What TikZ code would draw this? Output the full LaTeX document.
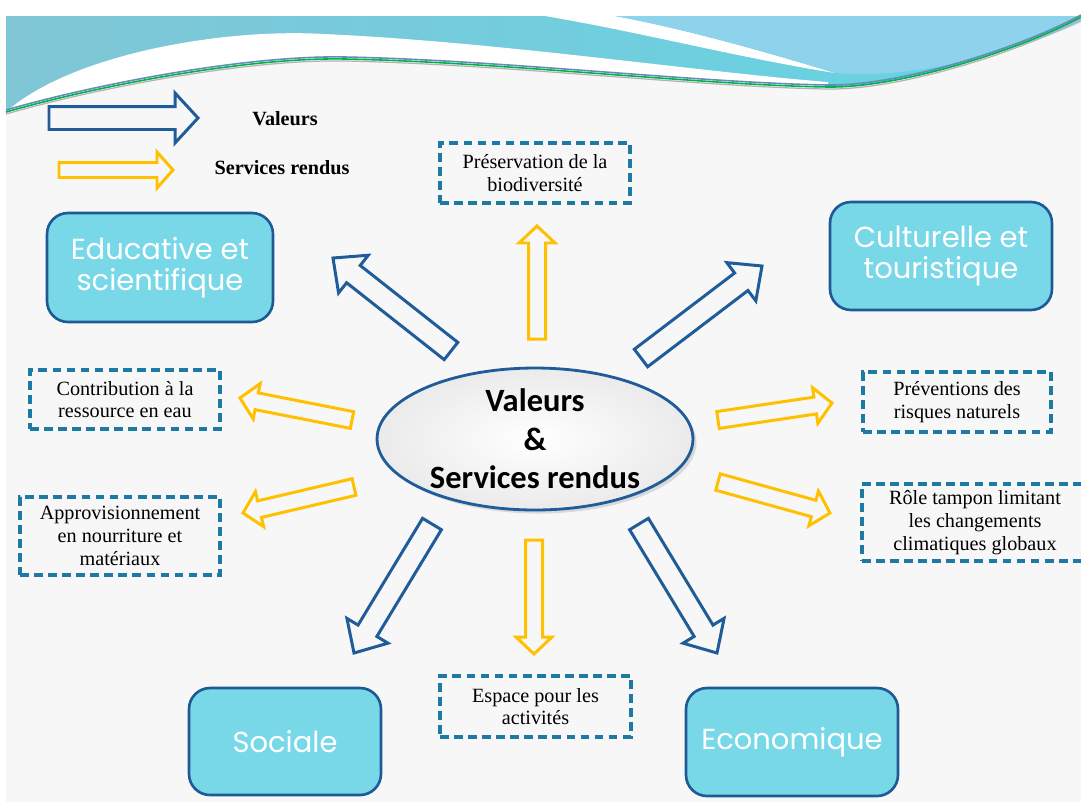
\documentclass[tikz,border=0pt]{standalone}
\usepackage{fontspec}
\setmainfont{Liberation Serif}
\newfontfamily\boxfont{Poppins}
\newfontfamily\ellfont{Carlito}
\usetikzlibrary{calc,shapes.geometric,shadows}

\definecolor{valblue}{RGB}{31,92,153}
\definecolor{servyellow}{RGB}{255,192,0}
\definecolor{boxfill}{RGB}{121,216,232}
\definecolor{boxline}{RGB}{30,90,150}
\definecolor{dashline}{RGB}{30,122,165}
\definecolor{slidebg}{RGB}{247,247,247}
\definecolor{bandteal}{RGB}{128,198,214}
\definecolor{bandcyan}{RGB}{100,212,228}
\definecolor{bandsky}{RGB}{142,210,236}

\def\blockarrow[#1](#2)(#3)(#4:#5:#6){\path ($(#3)!#6!(#2)$) coordinate (ba-base);
	\draw[#1] ($(#2)!#4!90:(#3)$) -- ($(ba-base)!#4!90:(#3)$) -- ($(ba-base)!#5!90:(#3)$) -- (#3)
	-- ($(ba-base)!#5!-90:(#3)$) -- ($(ba-base)!#4!-90:(#3)$) -- ($(#2)!#4!-90:(#3)$) -- cycle;}

\tikzset{
	valarrow/.style={draw=valblue, line width=1.7pt, line join=miter},
	servarrow/.style={draw=servyellow, line width=1.7pt, line join=miter},
	valbox/.style={draw=boxline, line width=1.5pt, fill=boxfill, rounded corners=0.42cm, text=white, align=center, inner sep=0pt, font=\boxfont\fontsize{16.5}{17.5}\selectfont},
	servbox/.style={draw=dashline, line width=1.8pt, dash pattern=on 5pt off 3pt, align=center, inner sep=0pt, font=\fontsize{11.5}{13}\selectfont},
	legendtext/.style={font=\bfseries\fontsize{11.5}{13}\selectfont},
	centre/.style={ellipse, draw=valblue, line width=1.6pt, inner color=white, outer color=gray!16, minimum width=6.32cm, minimum height=2.84cm, inner sep=0pt, align=center, font=\ellfont\bfseries\fontsize{18.5}{22}\selectfont, drop shadow={shadow xshift=2pt, shadow yshift=-2pt, opacity=0.25, fill=gray}}
}

\begin{document}
\begin{tikzpicture}[x=0.02cm, y=-0.02cm]
	%%%%% START %%%%%
	
	\clip (0,0) rectangle (1081,802);
	\fill[white] (0,0) rectangle (1081,802);
	\fill[slidebg] (6,16) rectangle (1081,802);
	
	% banner
	\shade[left color=bandteal, right color=bandcyan] (6,16) -- (1081,16) -- (1081,17) .. controls (1020,50) and (900,88) .. (828,87) .. controls (700,85) and (500,62) .. (345,59) .. controls (250,57) and (100,85) .. (6,112) -- cycle;
	\fill[white] (6,112) .. controls (70,55) and (220,28) .. (324,34) .. controls (500,42) and (700,72) .. (828,82) -- (828,87) .. controls (700,85) and (500,62) .. (345,59) .. controls (250,57) and (100,85) .. (6,112) -- cycle;
	\fill[white] (545,16) .. controls (640,32) and (740,58) .. (835,73) .. controls (760,50) and (680,28) .. (615,16) -- cycle;
	\fill[bandsky] (615,16) .. controls (680,28) and (760,50) .. (835,73) .. controls (920,80) and (1020,50) .. (1081,22) -- (1081,16) -- cycle;
	\draw[line width=0.9pt, color=valblue!70] (6,110) .. controls (100,83) and (250,55) .. (345,57) .. controls (500,60) and (700,83) .. (828,85) .. controls (900,86) and (1020,48) .. (1081,15);
	\draw[line width=0.9pt, color=teal!60!green] (6,112) .. controls (100,85) and (250,57) .. (345,59) .. controls (500,62) and (700,85) .. (828,87) .. controls (900,88) and (1020,50) .. (1081,17);
	\draw[line width=0.7pt, color=gray!60] (6,114) .. controls (100,87) and (250,59) .. (345,61) .. controls (500,64) and (700,87) .. (828,89) .. controls (900,90) and (1020,52) .. (1081,19);
	
	% legend
	\coordinate (legval-tail) at (49,118);
	\coordinate (legval-tip) at (198,118);
	\blockarrow[valarrow](legval-tail)(legval-tip)(0.23cm:0.5cm:0.46cm)
	\node[legendtext] (legval) at (285,119) {Valeurs};
	\coordinate (legserv-tail) at (59,170);
	\coordinate (legserv-tip) at (173,170);
	\blockarrow[servarrow](legserv-tail)(legserv-tip)(0.15cm:0.36cm:0.32cm)
	\node[legendtext] (legserv) at (282,168) {Services rendus};
	
	% centre
	\node[centre] (vs) at (535,439) {Valeurs\\\&\\Services rendus};
	
	% valeurs
	\node[valbox, minimum width=4.52cm, minimum height=2.18cm] (edu) at (160,267.5) {Educative et\\scientifique};
	\node[valbox, minimum width=4.44cm, minimum height=2.16cm] (cult) at (941,256) {Culturelle et\\touristique};
	\node[valbox, minimum width=3.84cm, minimum height=2.14cm] (soc) at (285,741.5) {Sociale};
	\node[valbox, minimum width=4.24cm, minimum height=2.16cm] (eco) at (792,742) {Economique};
	
	% services rendus
	\node[servbox, minimum width=3.8cm, minimum height=1.2cm] (pres) at (535,173) {Préservation de la\\biodiversité};
	\node[servbox, minimum width=3.8cm, minimum height=1.18cm] (contrib) at (125,399.5) {Contribution à la\\ressource en eau};
	\node[servbox, minimum width=4cm, minimum height=1.56cm] (appro) at (120,536) {Approvisionnement\\en nourriture et\\matériaux};
	\node[servbox, minimum width=3.76cm, minimum height=1.2cm] (prev) at (957,402) {Préventions des\\risques naturels};
	\node[servbox, minimum width=4.52cm, minimum height=1.54cm] (role) at (975,522.5) {Rôle tampon limitant\\les changements\\climatiques globaux};
	\node[servbox, minimum width=3.82cm, minimum height=1.22cm] (esp) at (535.5,706.5) {Espace pour les\\activités};
	
	% blue arrows
	\coordinate (edu-from) at (451,351);
	\coordinate (edu-to) at (333,258);
	\coordinate (cult-from) at (641,358);
	\coordinate (cult-to) at (762,266);
	\coordinate (soc-from) at (432,524);
	\coordinate (soc-to) at (354,653);
	\coordinate (eco-from) at (639,524);
	\coordinate (eco-to) at (717,653);
	\blockarrow[valarrow](edu-from)(edu-to)(0.22cm:0.48cm:0.52cm)
	\blockarrow[valarrow](cult-from)(cult-to)(0.22cm:0.48cm:0.52cm)
	\blockarrow[valarrow](soc-from)(soc-to)(0.22cm:0.48cm:0.52cm)
	\blockarrow[valarrow](eco-from)(eco-to)(0.22cm:0.48cm:0.52cm)
	
	% yellow arrows
	\coordinate (pres-from) at (537,339);
	\coordinate (pres-to) at (537,226);
	\coordinate (esp-from) at (534,540);
	\coordinate (esp-to) at (534,654);
	\coordinate (contrib-from) at (352,420);
	\coordinate (contrib-to) at (240,398);
	\coordinate (appro-from) at (354,487);
	\coordinate (appro-to) at (243,513);
	\coordinate (prev-from) at (718,420);
	\coordinate (prev-to) at (832,403);
	\coordinate (role-from) at (718,482);
	\coordinate (role-to) at (830,513);
	\blockarrow[servarrow](pres-from)(pres-to)(0.17cm:0.36cm:0.34cm)
	\blockarrow[servarrow](esp-from)(esp-to)(0.17cm:0.36cm:0.34cm)
	\blockarrow[servarrow](contrib-from)(contrib-to)(0.17cm:0.36cm:0.34cm)
	\blockarrow[servarrow](appro-from)(appro-to)(0.17cm:0.36cm:0.34cm)
	\blockarrow[servarrow](prev-from)(prev-to)(0.17cm:0.36cm:0.34cm)
	\blockarrow[servarrow](role-from)(role-to)(0.17cm:0.36cm:0.34cm)
	
	%%%%% END %%%%%
\end{tikzpicture}
\end{document}
